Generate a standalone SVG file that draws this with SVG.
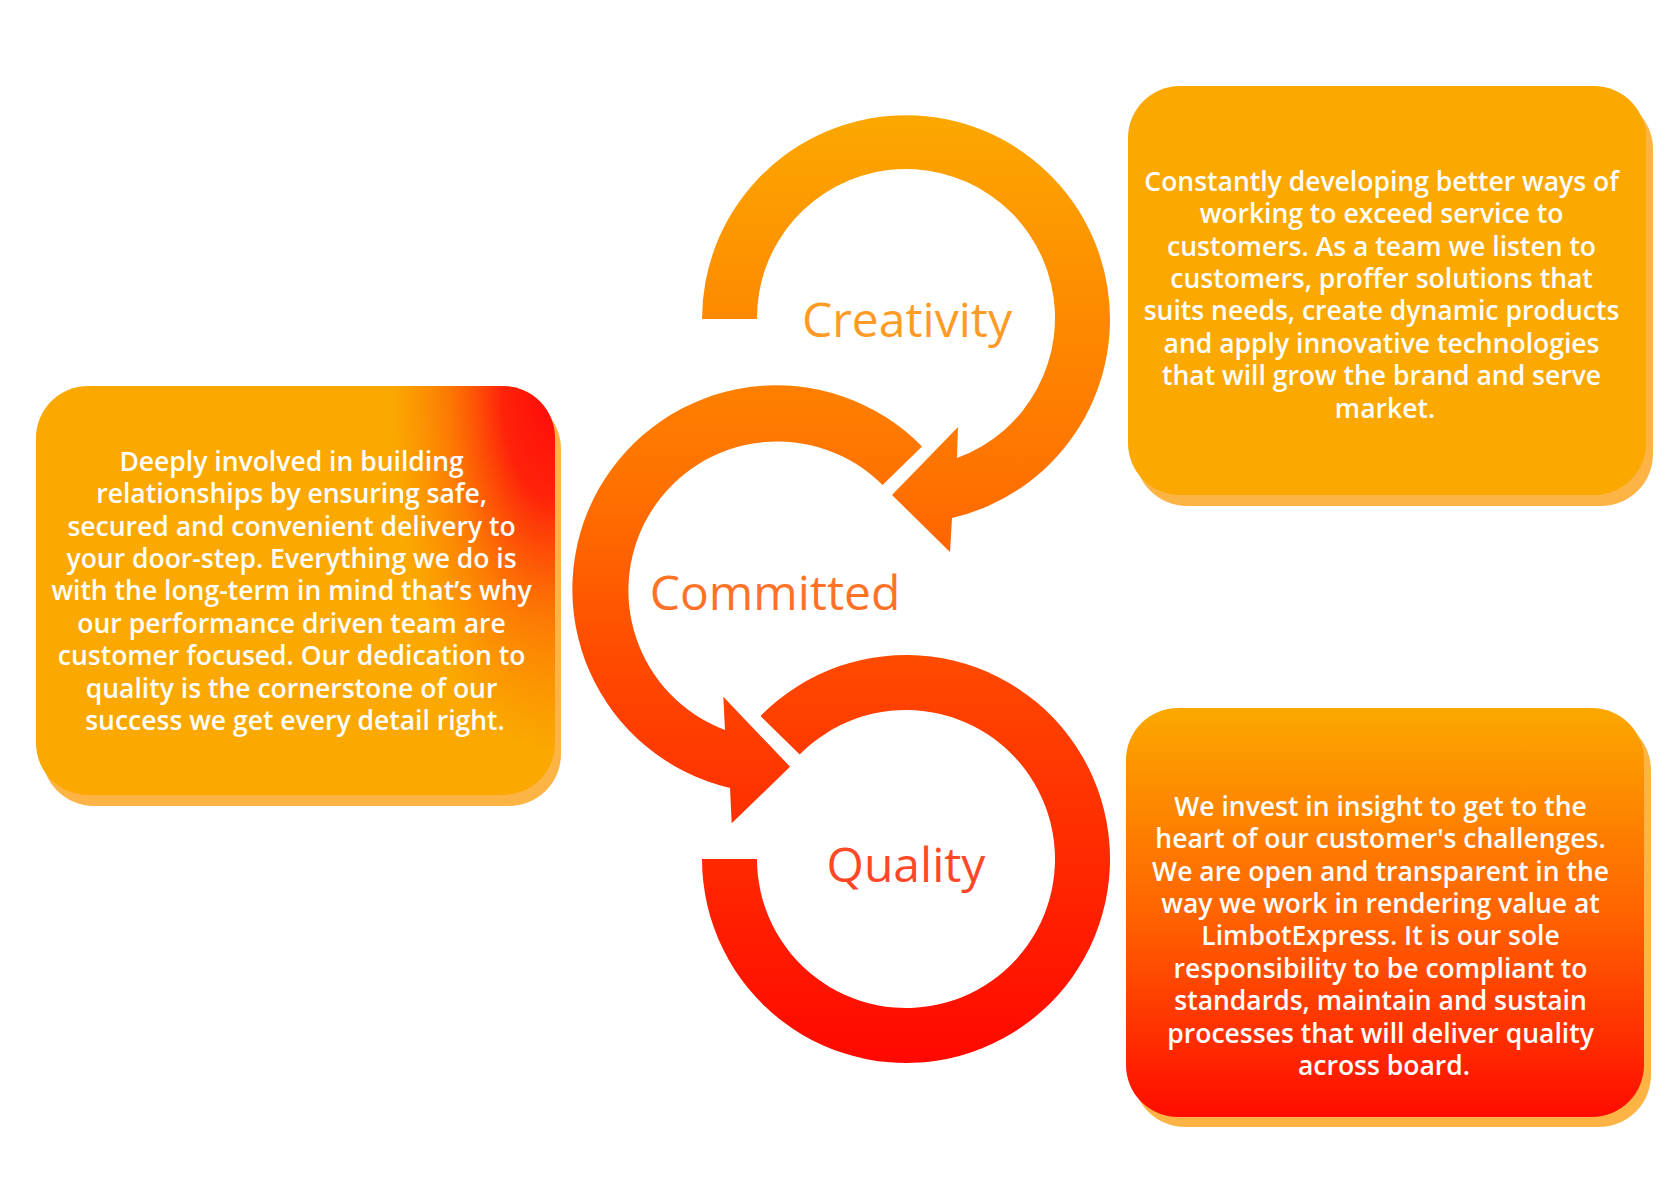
<svg xmlns="http://www.w3.org/2000/svg" width="1680" height="1200" viewBox="0 0 1680 1200">
  <defs>
    <linearGradient id="ringGrad" gradientUnits="userSpaceOnUse" x1="0" y1="113" x2="0" y2="1063">
      <stop offset="0" stop-color="#FCA800"/>
      <stop offset="0.4" stop-color="#FF7000"/>
      <stop offset="0.6" stop-color="#FF4500"/>
      <stop offset="1" stop-color="#FF0800"/>
    </linearGradient>
    <linearGradient id="qualityBoxGrad" x1="0" y1="0" x2="0" y2="1">
      <stop offset="0" stop-color="#FCA800"/>
      <stop offset="0.5" stop-color="#FF6400"/>
      <stop offset="1" stop-color="#FF0C00"/>
    </linearGradient>
    <radialGradient id="redGlow" gradientUnits="userSpaceOnUse" cx="0" cy="0" r="1" gradientTransform="translate(550 390) scale(160 360)">
      <stop offset="0" stop-color="#FF0A0A" stop-opacity="1"/>
      <stop offset="0.3" stop-color="#FF140A" stop-opacity="0.9"/>
      <stop offset="0.65" stop-color="#FF3A08" stop-opacity="0.4"/>
      <stop offset="1" stop-color="#FF5A05" stop-opacity="0"/>
    </radialGradient>
  </defs>
  <style>
    .shadow { fill: #FDB445; }
    .box { fill: #FBA800; }
    .body { font-family: "Open Sans", "Noto Sans", "Liberation Sans", sans-serif; font-weight: 600; font-size: 26.5px; fill: #FFFFFF; text-anchor: middle; }
    .ring { fill: url(#ringGrad); }
    .label { font-family: "Open Sans", "Noto Sans", "Liberation Sans", sans-serif; font-weight: 400; font-size: 48px; fill: url(#ringGrad); fill-opacity: 0.85; text-anchor: middle; }
  </style>
  <rect width="1680" height="1200" fill="#FFFFFF"/>

  <g id="connectors">
    <g id="ring-creativity">
      <path class="ring" d="M 702 319 A 204 204 0 1 1 952 518 L 950 552 L 892 495 L 958 427 L 957 458 A 149 149 0 1 0 757 319 Z"/>
    </g>
    <g id="ring-committed">
      <path class="ring" d="M 922 446.5 A 204 204 0 1 0 730 788 L 731.7 823.3 L 790 766.7 L 723.3 696.7 L 725 730 A 149 149 0 1 1 882.6 485 Z"/>
    </g>
    <g id="ring-quality">
      <path class="ring" d="M 760.5 716 A 204 204 0 1 1 702 859 L 757 859 A 149 149 0 1 0 799.7 754.6 Z"/>
    </g>
  </g>

  <g id="node-creativity-label">
    <text class="label" x="907" y="337">Creativity</text>
  </g>
  <g id="node-committed-label">
    <text class="label" x="775" y="610">Committed</text>
  </g>
  <g id="node-quality-label">
    <text class="label" x="906" y="882">Quality</text>
  </g>

  <g id="node-creativity-box">
    <rect class="shadow" x="1135" y="97" width="518" height="409" rx="52" ry="52"/>
    <rect class="box" x="1128" y="86" width="518" height="409" rx="52" ry="52"/>
    <text class="body" x="1385">
      <tspan x="1385" y="190.7">Constantly developing better ways of</tspan>
      <tspan x="1385" y="223.1">working to exceed service to</tspan>
      <tspan x="1385" y="255.5">customers. As a team we listen to</tspan>
      <tspan x="1385" y="287.9">customers, proffer solutions that</tspan>
      <tspan x="1385" y="320.3">suits needs, create dynamic products</tspan>
      <tspan x="1385" y="352.7">and apply innovative technologies</tspan>
      <tspan x="1385" y="385.1">that will grow the brand and serve</tspan>
      <tspan x="1385" y="417.5">market.</tspan>
    </text>
  </g>

  <g id="node-committed-box">
    <rect class="shadow" x="42" y="397" width="519" height="409" rx="52" ry="52"/>
    <rect class="box" x="36" y="386" width="519" height="409" rx="52" ry="52"/>
    <rect x="36" y="386" width="519" height="409" rx="52" ry="52" fill="url(#redGlow)"/>
    <text class="body" x="295">
      <tspan x="295" y="470.7">Deeply involved in building</tspan>
      <tspan x="295" y="503.1">relationships by ensuring safe,</tspan>
      <tspan x="295" y="535.5">secured and convenient delivery to</tspan>
      <tspan x="295" y="567.9">your door-step. Everything we do is</tspan>
      <tspan x="295" y="600.3">with the long-term in mind that’s why</tspan>
      <tspan x="295" y="632.7">our performance driven team are</tspan>
      <tspan x="295" y="665.1">customer focused. Our dedication to</tspan>
      <tspan x="295" y="697.5">quality is the cornerstone of our</tspan>
      <tspan x="295" y="729.9">success we get every detail right.</tspan>
    </text>
  </g>

  <g id="node-quality-box">
    <rect class="shadow" x="1133" y="718" width="518" height="409" rx="52" ry="52"/>
    <rect x="1126" y="708" width="518" height="409" rx="52" ry="52" fill="url(#qualityBoxGrad)"/>
    <text class="body" x="1384">
      <tspan x="1384" y="815.8">We invest in insight to get to the</tspan>
      <tspan x="1384" y="848.2">heart of our customer's challenges.</tspan>
      <tspan x="1384" y="880.6">We are open and transparent in the</tspan>
      <tspan x="1384" y="913">way we work in rendering value at</tspan>
      <tspan x="1384" y="945.4">LimbotExpress. It is our sole</tspan>
      <tspan x="1384" y="977.8">responsibility to be compliant to</tspan>
      <tspan x="1384" y="1010.2">standards, maintain and sustain</tspan>
      <tspan x="1384" y="1042.6">processes that will deliver quality</tspan>
      <tspan x="1384" y="1075">across board.</tspan>
    </text>
  </g>
</svg>
